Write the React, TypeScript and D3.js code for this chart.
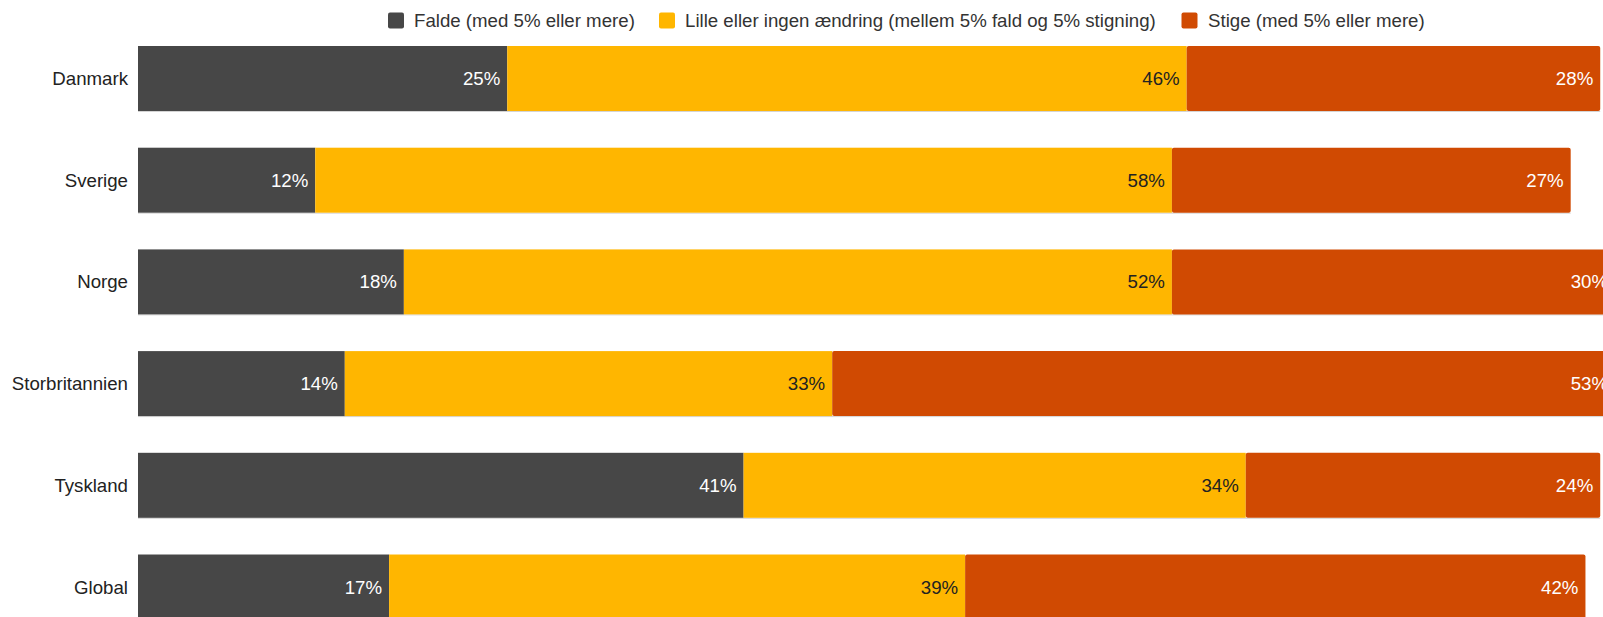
import React from "react";
import * as d3 from "d3";

const categories = ["Danmark", "Sverige", "Norge", "Storbritannien", "Tyskland", "Global"];
const falde = [25, 12, 18, 14, 41, 17];
const lille = [46, 58, 52, 33, 34, 39];
const stige = [28, 27, 30, 53, 24, 42];
const seriesNames = [
  "Falde (med 5% eller mere)",
  "Lille eller ingen ændring (mellem 5% fald og 5% stigning)",
  "Stige (med 5% eller mere)",
];
const colors = ["#474747", "#FFB600", "#D04A02"];
const labelColors = ["#ffffff", "#222222", "#ffffff"];

const W = 1603;
const H = 617;
const FONT = "'Liberation Sans', Arial, Helvetica, sans-serif";
const FS = 18.67;

export default function App() {
  const x = d3.scaleLinear().domain([0, 100]).range([138, 1615]);
  const y = d3
    .scaleBand<string>()
    .domain(categories)
    .range([46, 619.5])
    .paddingInner(0.361)
    .paddingOuter(0);

  const series = [falde, lille, stige];
  const legendPos = [
    { sq: 388, tx: 414 },
    { sq: 659, tx: 685 },
    { sq: 1181.5, tx: 1208 },
  ];

  return (
    <svg
      width={W}
      height={H}
      style={{ position: "absolute", left: 0, top: 0, overflow: "hidden", background: "#fff" }}
      fontFamily={FONT}
    >
      <style>{"body{margin:0;overflow:hidden}"}</style>
      {/* legend */}
      {seriesNames.map((name, i) => (
        <g key={name}>
          <rect x={legendPos[i].sq} y={12.5} width={16} height={16} rx={2} fill={colors[i]} />
          <text x={legendPos[i].tx} y={20.5} dy="0.35em" fontSize={FS} fill="#333">
            {name}
          </text>
        </g>
      ))}
      {/* bars */}
      {categories.map((cat, ci) => {
        const y0 = y(cat)!;
        const bh = y.bandwidth();
        let acc = 0;
        const total = falde[ci] + lille[ci] + stige[ci];
        return (
          <g key={cat}>
            <line
              x1={x(0)}
              x2={x(total)}
              y1={y0 + bh + 0.5}
              y2={y0 + bh + 0.5}
              stroke="#d4d4d4"
              strokeWidth={1}
            />
            {series.map((s, si) => {
              const v = s[ci];
              const x0 = x(acc);
              acc += v;
              const x1 = x(acc);
              return (
                <g key={si}>
                  <rect
                    x={x0}
                    y={y0}
                    width={x1 - x0}
                    height={bh}
                    fill={colors[si]}
                    rx={si === 2 ? 2 : 0}
                  />
                  <text
                    x={x1 - 7}
                    y={y0 + bh / 2}
                    dy="0.35em"
                    textAnchor="end"
                    fontSize={FS}
                    fill={labelColors[si]}
                  >
                    {v}%
                  </text>
                </g>
              );
            })}
            <text
              x={128}
              y={y0 + bh / 2}
              dy="0.35em"
              textAnchor="end"
              fontSize={FS}
              fill="#222"
            >
              {cat}
            </text>
          </g>
        );
      })}
    </svg>
  );
}
